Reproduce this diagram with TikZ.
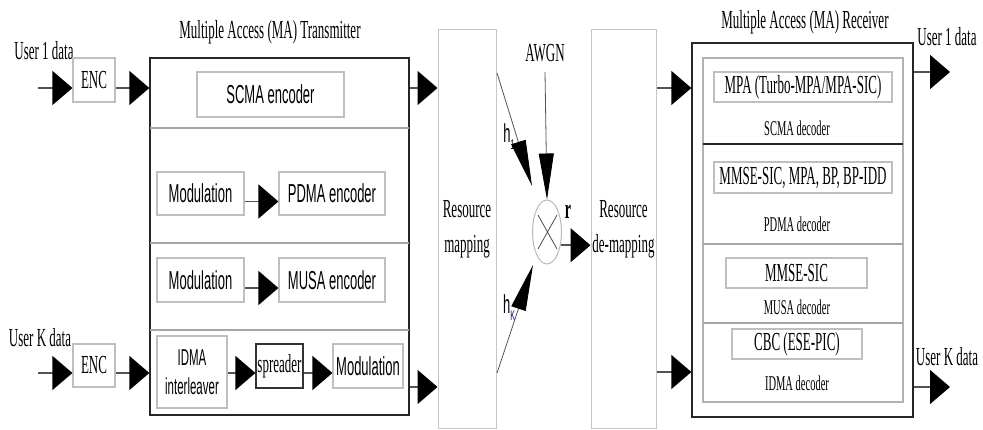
\documentclass[tikz,border=0pt]{standalone}
\usepackage{fontspec}
\newfontfamily\tnr{Liberation Serif}[FakeStretch=0.5]
\newfontfamily\ars{Liberation Sans}[FakeStretch=0.5]
\usetikzlibrary{arrows.meta,shapes.geometric}

\begin{document}
\begin{tikzpicture}[x=1pt, y=-1pt]
    % Define styles
    \tikzset{
        blk/.style={
            draw=gray!50,
            line width=1.2pt,
            inner sep=0pt,
            fill=white
        },
        txt/.style={
            font=\tnr\fontsize{26}{35}\selectfont,
            inner sep=0pt,
            align=center
        },
        sans/.style={
            font=\ars\fontsize{26}{29}\selectfont,
            inner sep=0pt,
            align=center
        },
        dec/.style={
            font=\tnr\fontsize{21}{25}\selectfont,
            inner sep=0pt
        },
        frame/.style={
            draw=black!85,
            line width=1.3pt,
            inner sep=0pt
        },
        divider/.style={
            gray!70,
            line width=2pt
        },
        flow/.style={
            draw=gray!65!black,
            line width=1.5pt,
            -{Triangle[length=20pt, width=34pt, color=black]}
        },
        feed/.style={
            draw=gray!65!black,
            line width=0.8pt,
            -{Triangle[length=46pt, width=15pt, color=black]}
        }
    }
    \useasboundingbox (0,0) rectangle (983,430);

    % Rows of the connectors
    \coordinate (in1) at (38,88);
    \coordinate (inK) at (38,373);
    \coordinate (txK) at (0,387);
    \coordinate (dmK) at (0,372);
    \coordinate (out1) at (950,72);
    \coordinate (outK) at (950,387);

    % Inputs
    \node[txt] (user1) at (44,51) {User 1 data};
    \node[txt] (userK) at (40,338) {User K data};
    \node[blk, txt, minimum width=42pt, minimum height=44pt] (enc1) at (94,80) {ENC};
    \node[blk, txt, minimum width=42pt, minimum height=43pt] (encK) at (94,365.5) {ENC};
    \draw[flow] (in1) -- (in1 -| enc1.west);
    \draw[flow] (inK) -- (inK -| encK.west);

    % Transmitter
    \node[txt] (txtitle) at (270,32) {Multiple Access (MA) Transmitter};
    \node[frame, minimum width=259pt, minimum height=357pt] (tx) at (279.5,236.5) {};
    \draw[divider] (150,128) -- (409,128);
    \draw[divider] (150,243) -- (409,243);
    \draw[divider] (150,330) -- (409,330);
    \draw[flow] (enc1.east |- in1) -- (tx.west |- in1);
    \draw[flow] (encK.east |- inK) -- (tx.west |- inK);

    \node[blk, sans, minimum width=147pt, minimum height=45pt] (scma) at (270.5,94.5) {SCMA encoder};

    \node[blk, sans, minimum width=87pt, minimum height=43pt] (mod1) at (200.5,193.5) {Modulation};
    \node[blk, sans, minimum width=106pt, minimum height=43pt] (pdma) at (332,193.5) {PDMA encoder};
    \draw[flow] ([yshift=-8pt]mod1.east) -- ([yshift=-8pt]pdma.west);

    \node[blk, sans, minimum width=87pt, minimum height=44pt] (mod2) at (200.5,280) {Modulation};
    \node[blk, sans, minimum width=106pt, minimum height=44pt] (musa) at (332,280) {MUSA encoder};
    \draw[flow] ([yshift=-8pt]mod2.east) -- ([yshift=-8pt]musa.west);

    \node[blk, sans, font=\ars\fontsize{23}{29}\selectfont, minimum width=70pt, minimum height=72pt] (idma) at (192,372) {IDMA\\interleaver};
    \node[blk, txt, draw=black!80, minimum width=47pt, minimum height=44pt] (spr) at (279.5,366) {spreader};
    \node[blk, sans, minimum width=70pt, minimum height=44pt] (mod3) at (368,366) {Modulation};
    \draw[flow] (idma.east |- inK) -- (spr.west |- inK);
    \draw[flow] (spr.east |- inK) -- (mod3.west |- inK);

    % Resource mapping and channel
    \node[blk, txt, draw=gray!45, line width=1pt, minimum width=58pt, minimum height=398pt] (rm) at (467,229) {Resource\\mapping};
    \draw[flow] (tx.east |- in1) -- (rm.west |- in1);
    \draw[flow] (tx.east |- txK) -- (rm.west |- txK);

    \node[txt] (awgn) at (545,53) {AWGN};
    \node[draw=gray!55, line width=1pt, ellipse, minimum width=29pt, minimum height=64pt, inner sep=0pt] (mix) at (547,232) {};
    \draw[gray!60!black, line width=0.8pt] (mix.center) ++(-9,-17) -- ++(19,34)
        (mix.center) ++(10,-17) -- ++(-19,34);
    \draw[feed] ([yshift=-10pt]awgn.south) -- (mix.north);

    \coordinate (h1s) at (497,73);
    \coordinate (h1e) at (532,186);
    \coordinate (hKs) at (497,373);
    \coordinate (hKe) at (533,265);
    \draw[feed] (h1s) -- (h1e);
    \draw[feed] (hKs) -- (hKe);
    \node[sans] (h1) at (509,137) {h\raisebox{-7pt}{\fontsize{14}{14}\selectfont 1}};
    \node[sans] (hK) at (509,308) {h\raisebox{-7pt}{\fontsize{14}{14}\selectfont\color{blue!60!black}K}};
    \node[txt, font=\tnr\bfseries\fontsize{28}{30}\selectfont] (r) at (568,212) {r};

    \node[blk, txt, draw=gray!45, line width=1pt, minimum width=65pt, minimum height=398pt] (rdm) at (623.5,229) {Resource\\de-mapping};
    \draw[flow] (mix.-44) -- (mix.-44 -| rdm.west);

    % Receiver
    \node[txt] (rxtitle) at (805,22) {Multiple Access (MA) Receiver};
    \node[frame, minimum width=221pt, minimum height=374pt] (rx) at (802.5,230) {};
    \draw[gray!60, line width=1.2pt] (703,58) rectangle (903,402);
    \draw[black!85, line width=1.5pt] (703,144) -- (903,144);
    \draw[divider] (703,244) -- (903,244);
    \draw[divider] (703,323) -- (903,323);
    \draw[flow] (rdm.east |- in1) -- (rx.west |- in1);
    \draw[flow] (rdm.east |- dmK) -- (rx.west |- dmK);

    \node[blk, txt, minimum width=178pt, minimum height=30pt] (mpa) at (803,87) {MPA (Turbo-MPA/MPA-SIC)};
    \node[dec] (scmadec) at (797,128) {SCMA decoder};
    \node[blk, txt, minimum width=178pt, minimum height=31pt] (pdmadet) at (803,177.5) {MMSE-SIC, MPA, BP, BP-IDD};
    \node[dec] (pdmadec) at (797,224) {PDMA decoder};
    \node[blk, txt, minimum width=141pt, minimum height=30pt] (mmse) at (796.5,273) {MMSE-SIC};
    \node[dec] (musadec) at (797,307) {MUSA decoder};
    \node[blk, txt, minimum width=130pt, minimum height=30pt] (cbc) at (797,344) {CBC (ESE-PIC)};
    \node[dec] (idmadec) at (797,383) {IDMA decoder};

    % Outputs
    \draw[flow] (rx.east |- out1) -- (out1);
    \draw[flow] (rx.east |- outK) -- (outK);
    \node[txt] (ruser1) at (947,37) {User 1 data};
    \node[txt] (ruserK) at (947,357) {User K data};
\end{tikzpicture}
\end{document}
